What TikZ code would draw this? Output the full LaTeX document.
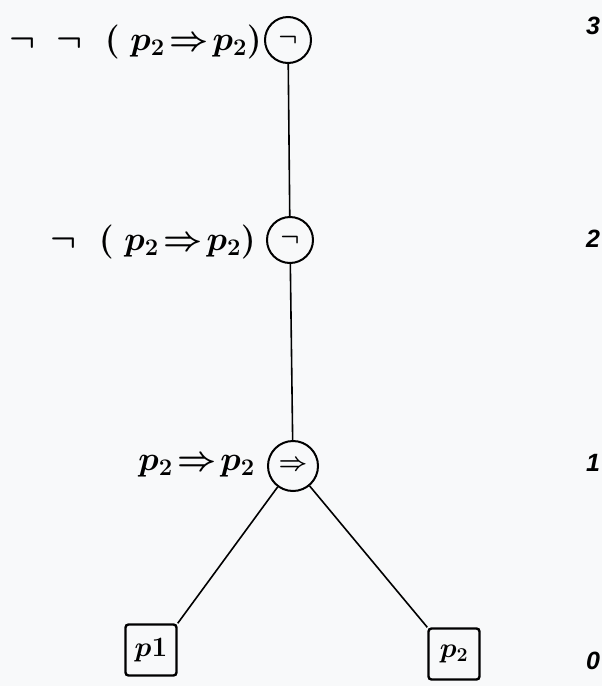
\RequirePackage{fix-cm}
\documentclass[tikz,border=0pt]{standalone}
\usepackage{fontspec}
\usepackage{amssymb}
\newfontfamily\levelfont{Liberation Sans}
\tikzset{
  op/.style={circle, draw, line width=2pt, minimum size=46pt, inner sep=0pt, font=\fontsize{25}{27}\selectfont\boldmath},
  leaf/.style={draw, line width=2.4pt, rounded corners=3pt, minimum size=51pt, inner sep=0pt, font=\fontsize{28}{30}\selectfont\boldmath},
  formula/.style={anchor=east, inner sep=0pt, font=\fontsize{34}{36}\selectfont\boldmath},
  level/.style={inner sep=0pt, font=\fontsize{25}{27}\selectfont\levelfont\bfseries\itshape},
  edge/.style={line width=1.6pt}
}
\begin{document}
\begin{tikzpicture}[x=1pt, y=-1pt]
  \fill[fill={rgb,255:red,248;green,249;blue,250}] (0,0) rectangle (602,686);
  \useasboundingbox (0,0) rectangle (602,686);

  % operator nodes
  \node[op] (n3) at (288,40) {$\neg$};
  \node[op] (n2) at (290,240) {$\neg$};
  \node[op, minimum size=50pt] (n1) at (293,466) {$\Rightarrow$};

  % leaves
  \node[leaf] (l1) at (151,650) {$p1$};
  \node[leaf] (l2) at (454,654) {$p_2$};

  % edges
  \draw[edge] (n3) -- (n2);
  \draw[edge] (n2) -- (n1);
  \draw[edge] (n1) -- (l1.north east);
  \draw[edge] (n1) -- (l2.north west);

  % subformula labels
  \node[formula] (f3) at (262,42) {$\neg\;\;\neg\;\;\bigl(\;p_2\!\Rightarrow\! p_2\bigr)$};
  \node[formula] (f2) at (256,242) {$\neg\;\;\bigl(\;p_2\!\Rightarrow\! p_2\bigr)$};
  \node[formula] (f1) at (255,466) {$p_2\!\Rightarrow\! p_2$};

  % depth levels
  \node[level] (d3) at (593,26) {3};
  \node[level] (d2) at (593,239) {2};
  \node[level] (d1) at (593,463) {1};
  \node[level] (d0) at (593,661) {0};
\end{tikzpicture}
\end{document}
